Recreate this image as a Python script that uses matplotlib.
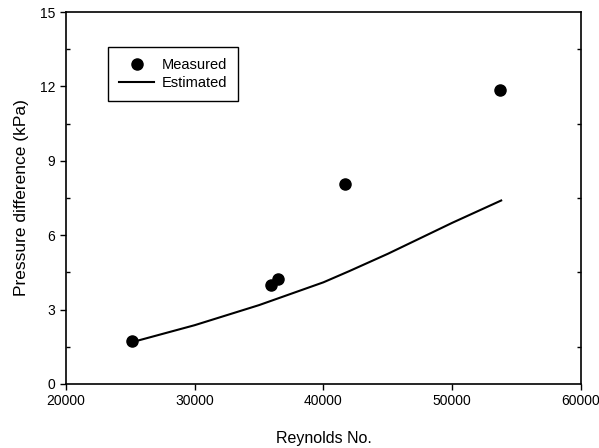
import matplotlib
matplotlib.use("Agg")
import matplotlib.pyplot as plt
from matplotlib.ticker import MultipleLocator

plt.rcParams['font.family'] = ['Liberation Sans', 'DejaVu Sans']

# measured points
re_meas = [25100, 35950, 36450, 41700, 53700]
dp_meas = [1.72, 4.0, 4.25, 8.05, 11.87]

# estimated curve
re_est = [25100, 30000, 35000, 40000, 42000, 45000, 50000, 53800]
dp_est = [1.68, 2.37, 3.18, 4.1, 4.55, 5.25, 6.5, 7.4]

fig = plt.figure(figsize=(5.99, 4.48), dpi=100)
ax = fig.add_axes([0.110, 0.143, 0.860, 0.830])

ax.plot(re_est, dp_est, color="black", lw=1.5, label="Estimated")
ax.plot(re_meas, dp_meas, "o", color="black", markersize=8, label="Measured")

ax.set_xlim(20000, 60000)
ax.set_ylim(0, 15)
ax.xaxis.set_major_locator(MultipleLocator(10000))
ax.yaxis.set_major_locator(MultipleLocator(3))
ax.yaxis.set_minor_locator(MultipleLocator(1.5))

ax.tick_params(axis="both", which="major", direction="out", length=4,
               labelsize=10, width=1)
ax.tick_params(axis="y", which="minor", direction="in", length=3,
               right=True, width=1)
ax.tick_params(axis="x", which="minor", bottom=False)

for s in ax.spines.values():
    s.set_linewidth(1.2)

ax.set_xlabel("Reynolds No.", fontsize=11.5, labelpad=16)
ax.set_ylabel("Pressure difference (kPa)", fontsize=12.5, labelpad=8)

handles, labels = ax.get_legend_handles_labels()
leg = ax.legend(handles[::-1], labels[::-1], loc="upper left",
                bbox_to_anchor=(0.082, 0.906), borderaxespad=0,
                fontsize=10.5, fancybox=False, edgecolor="black",
                framealpha=1, handlelength=2.4, handletextpad=0.5,
                borderpad=0.75, labelspacing=0.3)
leg.get_frame().set_linewidth(1.0)

fig.savefig("out.png", dpi=100)
